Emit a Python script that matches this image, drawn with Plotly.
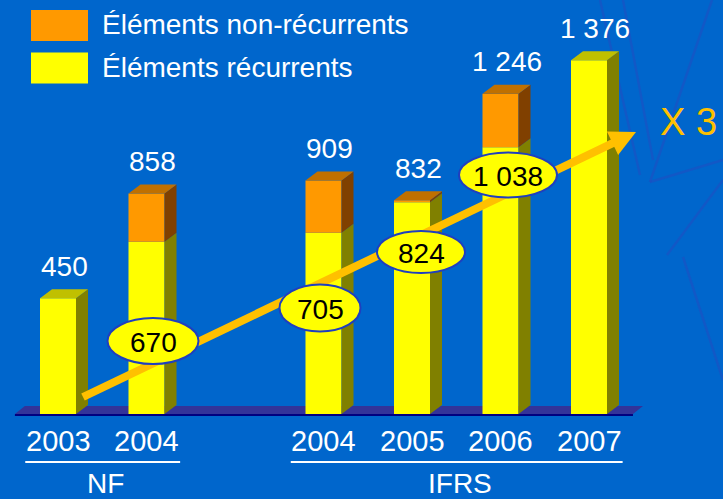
import math
import plotly.graph_objects as go

# ---- data ----
years = ["2003", "2004", "2004", "2005", "2006", "2007"]
groups = ["NF", "NF", "IFRS", "IFRS", "IFRS", "IFRS"]
positions = [0, 1, 3, 4, 5, 6]
totals = [450, 858, 909, 832, 1246, 1376]
recurring = [450, 670, 705, 824, 1038, 1376]
nonrecurring = [t - r for t, r in zip(totals, recurring)]
total_labels = ["450", "858", "909", "832", "1 246", "1 376"]
recurring_labels = ["", "670", "705", "824", "1 038", ""]
legend_names = ["Éléments non-récurrents", "Éléments récurrents"]

# ---- geometry helpers (pixel -> data) ----
W, H = 723, 499
X0PX, XS = 58.0, 88.5
Y0PX, YS = 414.0, 0.257


def dx(px):
    return (px - X0PX) / XS


def dy(py):
    return (Y0PX - py) / YS


BAR_W = 36 / XS
DEPTH_X = 12 / XS
DEPTH_Y = 9 / YS

BG = "#0066CC"
YEL, YEL_SIDE, YEL_TOP = "#FFFF00", "#808000", "#C0C000"
ORA, ORA_SIDE, ORA_TOP = "#FF9900", "#804000", "#C07000"
FONT_N = "Liberation Sans, Arial, sans-serif"
FONT_R = "Liberation Sans, Arial, sans-serif"

fig = go.Figure()

# front faces
fig.add_trace(go.Bar(x=positions, y=recurring, width=BAR_W,
                     marker=dict(color=YEL, line=dict(width=0)),
                     name=legend_names[1], showlegend=False, hoverinfo="skip"))
fig.add_trace(go.Bar(x=positions, y=nonrecurring, base=recurring, width=BAR_W,
                     marker=dict(color=ORA, line=dict(width=0)),
                     name=legend_names[0], showlegend=False, hoverinfo="skip"))


def poly_trace(polys, color):
    xs, ys = [], []
    for p in polys:
        for (a, b) in p:
            xs.append(a)
            ys.append(b)
        xs.append(p[0][0])
        ys.append(p[0][1])
        xs.append(None)
        ys.append(None)
    return go.Scatter(x=xs, y=ys, mode="lines", fill="toself", fillcolor=color,
                      line=dict(width=0, color=color), showlegend=False,
                      hoverinfo="skip")


ys_side, os_side, ys_top, os_top = [], [], [], []
for x, r, n in zip(positions, recurring, nonrecurring):
    xr = x + BAR_W / 2
    xl = x - BAR_W / 2
    ys_side.append([(xr, 0), (xr + DEPTH_X, DEPTH_Y), (xr + DEPTH_X, r + DEPTH_Y), (xr, r)])
    t = r + n
    if n > 0:
        os_side.append([(xr, r), (xr + DEPTH_X, r + DEPTH_Y), (xr + DEPTH_X, t + DEPTH_Y), (xr, t)])
    top = [(xl, t), (xl + DEPTH_X, t + DEPTH_Y), (xr + DEPTH_X, t + DEPTH_Y), (xr, t)]
    (os_top if n > 0 else ys_top).append(top)

fig.add_trace(poly_trace(ys_side, YEL_SIDE))
fig.add_trace(poly_trace(os_side, ORA_SIDE))
fig.add_trace(poly_trace(ys_top, YEL_TOP))
fig.add_trace(poly_trace(os_top, ORA_TOP))

shapes = []

# faint background decoration (upper right)
deco = [((623, 0), (653, 160)), ((712, 0), (650, 182)), ((650, 182), (723, 160)),
        ((667, 255), (723, 180)), ((683, 257), (723, 380)), ((600, 0), (640, 175))]
for (p, q) in deco:
    shapes.append(dict(type="line", layer="below", xref="paper", yref="paper",
                       x0=p[0] / W, y0=1 - p[1] / H, x1=q[0] / W, y1=1 - q[1] / H,
                       line=dict(color="rgba(40,70,190,0.45)", width=2.5)))

# floor
fl, fr = positions[0] - 0.487, positions[-1] + 0.497
fdx, fdy = 10 / XS, 8 / YS
shapes.append(dict(type="path", layer="below", xref="x", yref="y",
                   path=f"M {fl} 0 L {fr} 0 L {fr + fdx} {fdy} L {fl + fdx} {fdy} Z",
                   fillcolor="#333399", line=dict(width=0)))
shapes.append(dict(type="line", layer="below", xref="x", yref="y",
                   x0=fl, x1=fr, y0=dy(415), y1=dy(415),
                   line=dict(color="#000080", width=2)))

# growth arrow
ax0, ay0 = 83, 397
tipx, tipy = 636, 132
ux, uy = tipx - ax0, tipy - ay0
L = math.hypot(ux, uy)
ux, uy = ux / L, uy / L
nx, ny = -uy, ux
head_len, head_w = 26, 13
bx, by = tipx - head_len * ux, tipy - head_len * uy
ARROW = "#FFC000"
shapes.append(dict(type="line", layer="above", xref="x", yref="y",
                   x0=dx(ax0), y0=dy(ay0), x1=dx(bx + 2 * ux), y1=dy(by + 2 * uy),
                   line=dict(color=ARROW, width=8)))
c1 = (bx + head_w * nx, by + head_w * ny)
c2 = (bx - head_w * nx, by - head_w * ny)
shapes.append(dict(type="path", layer="above", xref="x", yref="y",
                   path=f"M {dx(tipx)} {dy(tipy)} L {dx(c1[0])} {dy(c1[1])} L {dx(c2[0])} {dy(c2[1])} Z",
                   fillcolor=ARROW, line=dict(width=0)))

# ellipse labels (pixel centre positions and sizes)
ell_centers = [None, (153, 341), (320, 308), (421, 252), (508, 175), None]
ell_sizes = [None, (91, 46), (81, 47), (88, 42), (98, 45), None]
annotations = []
for lab, c, s in zip(recurring_labels, ell_centers, ell_sizes):
    if not lab:
        continue
    cx, cy = c
    w, h = s
    shapes.append(dict(type="circle", layer="above", xref="x", yref="y",
                       x0=dx(cx - w / 2), x1=dx(cx + w / 2),
                       y0=dy(cy + h / 2), y1=dy(cy - h / 2),
                       fillcolor="#FFFF00", line=dict(color="#1F3FBF", width=2)))
    annotations.append(dict(x=dx(cx), y=dy(cy + 1), xref="x", yref="y", text=lab,
                            showarrow=False, font=dict(family=FONT_N, size=28, color="black"),
                            xanchor="center", yanchor="middle"))

# total labels
for x, t, lab in zip(positions, totals, total_labels):
    annotations.append(dict(x=x + 0.07, y=t + 124, xref="x", yref="y", text=lab,
                            showarrow=False, font=dict(family=FONT_N, size=28, color="white"),
                            xanchor="center", yanchor="middle"))

# year labels
for x, yr in zip(positions, years):
    annotations.append(dict(x=x, y=dy(441), xref="x", yref="y", text=yr,
                            showarrow=False, font=dict(family=FONT_N, size=29, color="white"),
                            xanchor="center", yanchor="middle"))

# group underline + names
for g in ["NF", "IFRS"]:
    idx = [i for i, gg in enumerate(groups) if gg == g]
    p0, p1 = positions[idx[0]], positions[idx[-1]]
    shapes.append(dict(type="line", layer="above", xref="x", yref="y",
                       x0=p0 - 0.37, x1=p1 + 0.38, y0=dy(462), y1=dy(462),
                       line=dict(color="white", width=2)))
    annotations.append(dict(x=(p0 + p1) / 2 + 0.04, y=dy(483), xref="x", yref="y", text=g,
                            showarrow=False, font=dict(family=FONT_N, size=28, color="white"),
                            xanchor="center", yanchor="middle"))

# X 3
annotations.append(dict(x=dx(688), y=dy(122), xref="x", yref="y", text="X 3",
                        showarrow=False, font=dict(family=FONT_N, size=38, color="#FFC000"),
                        xanchor="center", yanchor="middle"))

# legend
leg_colors = [ORA, YEL]
leg_y = [25.5, 68]
for name, col, ly in zip(legend_names, leg_colors, leg_y):
    shapes.append(dict(type="rect", layer="above", xref="paper", yref="paper",
                       x0=31 / W, x1=88 / W, y0=1 - (ly + 15.5) / H, y1=1 - (ly - 15.5) / H,
                       fillcolor=col, line=dict(width=0)))
    annotations.append(dict(x=100 / W, y=1 - (ly - 1) / H, xref="paper", yref="paper", text=name,
                            showarrow=False, font=dict(family=FONT_R, size=28, color="white"),
                            xanchor="left", yanchor="middle"))

fig.update_layout(
    width=W, height=H,
    margin=dict(l=0, r=0, t=0, b=0),
    paper_bgcolor=BG, plot_bgcolor=BG,
    barmode="overlay",
    showlegend=False,
    xaxis=dict(range=[dx(0), dx(W)], visible=False, fixedrange=True),
    yaxis=dict(range=[dy(H), dy(0)], visible=False, fixedrange=True),
    shapes=shapes,
    annotations=annotations,
)

fig.write_html("out.html",
               config={"displayModeBar": False},
               post_script="document.body.style.margin='0px';"
                           "document.body.style.background='#0066CC';")
